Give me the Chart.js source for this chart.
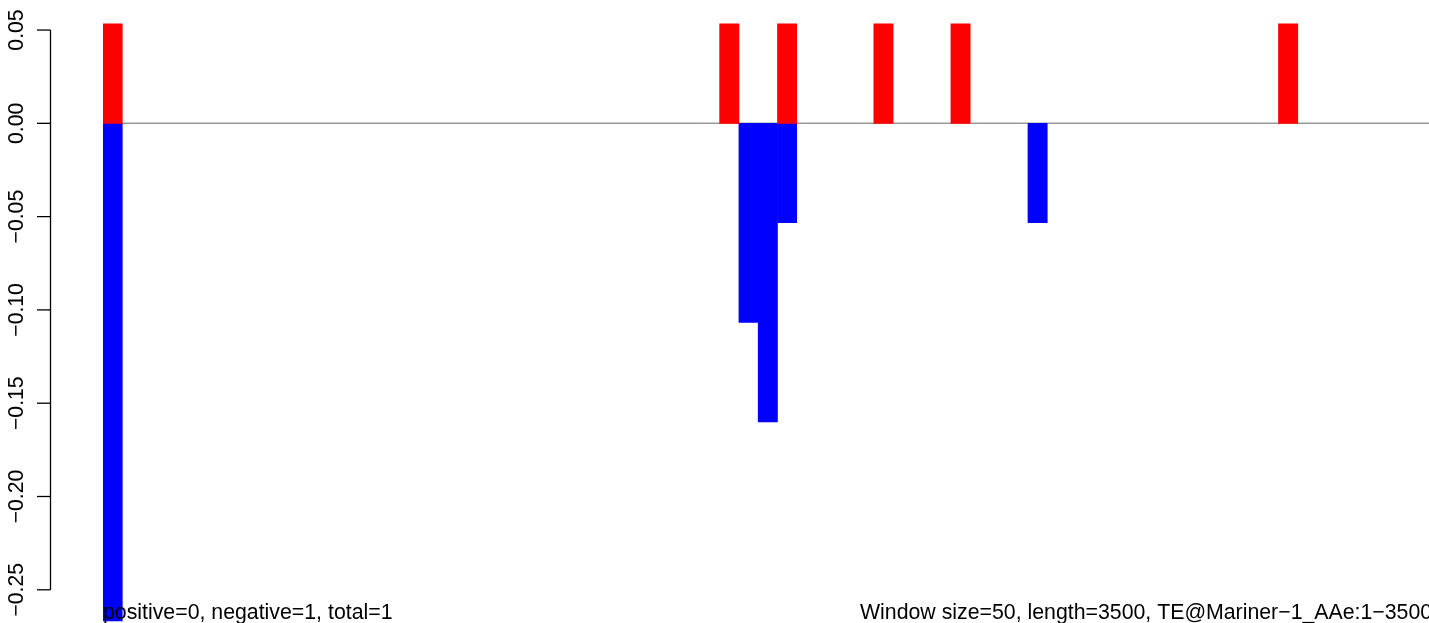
<!DOCTYPE html>
<html><head><meta charset="utf-8">
<script src="https://cdn.jsdelivr.net/npm/chart.js@4.4.1/dist/chart.umd.min.js"></script>
<style>html,body{margin:0;padding:0;background:#fff;overflow:hidden}canvas{display:block}</style>
</head><body>
<canvas id="c" width="1429" height="623"></canvas>
<script>
// ---- data ----
const windowSize = 50;
const seqLength = 3500;
const positiveBins = [0, 32, 35, 40, 44, 61];
const positiveValues = [0.0533, 0.0533, 0.0533, 0.0533, 0.0533, 0.0533];
const negativeBins = [0, 33, 34, 35, 48];
const negativeValues = [-0.2667, -0.1067, -0.16, -0.0533, -0.0533];
const yTickValues = [0.05, 0, -0.05, -0.10, -0.15, -0.20, -0.25];
const yTickLabels = ['0.05', '0.00', '\u22120.05', '\u22120.10', '\u22120.15', '\u22120.20', '\u22120.25'];
const leftNote = 'positive=0, negative=1, total=1';
const rightNote = 'Window size=50, length=3500, TE@Mariner\u22121_AAe:1\u22123500';

const FONT = '21.2px "Liberation Sans", Arial, Helvetica, sans-serif';
const NOTE_FONT = '21.3px "Liberation Sans", Arial, Helvetica, sans-serif';

const posData = positiveBins.map((b, i) => ({ x: b + 0.5, y: positiveValues[i] }));
const negData = negativeBins.map((b, i) => ({ x: b + 0.5, y: negativeValues[i] }));

const decor = {
  id: 'decor',
  beforeDatasetsDraw(chart) {
    const ctx = chart.ctx, x = chart.scales.x, y = chart.scales.y;
    ctx.save();
    ctx.strokeStyle = '#999999';
    ctx.lineWidth = 1.5;
    const y0 = y.getPixelForValue(0);
    ctx.beginPath();
    ctx.moveTo(x.getPixelForValue(0), y0);
    ctx.lineTo(chart.width, y0);
    ctx.stroke();
    ctx.restore();
  },
  afterDraw(chart) {
    const ctx = chart.ctx, y = chart.scales.y;
    ctx.save();
    // y axis
    const axisX = 50.5;
    ctx.strokeStyle = '#000';
    ctx.lineWidth = 1.3;
    ctx.beginPath();
    ctx.moveTo(axisX, y.getPixelForValue(yTickValues[yTickValues.length - 1]));
    ctx.lineTo(axisX, y.getPixelForValue(yTickValues[0]));
    ctx.stroke();
    ctx.fillStyle = '#000';
    ctx.font = FONT;
    yTickValues.forEach((v, i) => {
      const py = y.getPixelForValue(v);
      ctx.beginPath();
      ctx.moveTo(axisX, py);
      ctx.lineTo(37, py);
      ctx.stroke();
      ctx.save();
      ctx.translate(22.5, py);
      ctx.rotate(-Math.PI / 2);
      ctx.textAlign = 'center';
      ctx.textBaseline = 'alphabetic';
      ctx.fillText(yTickLabels[i], 0, 0);
      ctx.restore();
    });
    // notes
    ctx.font = NOTE_FONT;
    ctx.textBaseline = 'alphabetic';
    ctx.textAlign = 'left';
    ctx.fillText(leftNote, chart.scales.x.getPixelForValue(0), 619);
    ctx.fillText(rightNote, 860, 619);
    ctx.restore();
  }
};

new Chart(document.getElementById('c'), {
  type: 'bar',
  data: {
    datasets: [
      { label: 'positive', data: posData, backgroundColor: '#FF0000', borderWidth: 0 },
      { label: 'negative', data: negData, backgroundColor: '#0000FF', borderWidth: 0 }
    ]
  },
  options: {
    responsive: false,
    animation: false,
    devicePixelRatio: 1,
    grouped: false,
    barPercentage: 1,
    categoryPercentage: 1,
    layout: { padding: { left: 103, right: 0, top: 0, bottom: 0 } },
    plugins: { legend: { display: false }, tooltip: { enabled: false }, title: { display: false } },
    scales: {
      x: { type: 'linear', display: false, min: 0, max: 68.81, offset: false },
      y: { type: 'linear', display: false, min: -0.2678, max: 0.0661 }
    }
  },
  plugins: [decor]
});
</script>
</body></html>
